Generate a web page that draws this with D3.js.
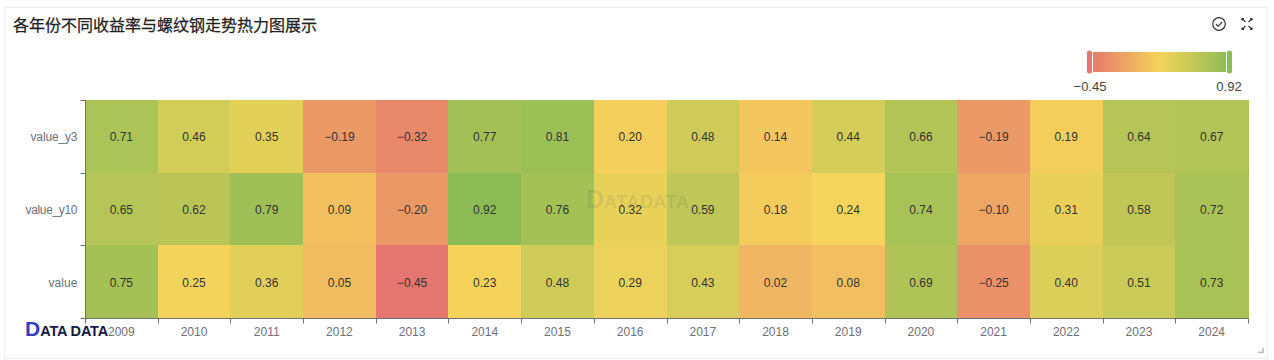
<!DOCTYPE html>
<html lang="zh">
  <head>
    <meta charset="utf-8" />
    <title>各年份不同收益率与螺纹钢走势热力图展示</title>
    <script src="https://d3js.org/d3.v7.min.js"></script>
    <style>
      html, body { margin: 0; padding: 0; background: #fff; overflow: hidden; }
      svg { display: block; font-family: "Liberation Sans", "Noto Sans CJK SC", sans-serif; }
    </style>
  </head>
  <body>
    <div id="chart"></div>
    <script>
      var years = ["2009","2010","2011","2012","2013","2014","2015","2016","2017","2018","2019","2020","2021","2022","2023","2024"];
      var seriesNames = ["value_y3", "value_y10", "value"];
      var value_y3 = [0.71,0.46,0.35,-0.19,-0.32,0.77,0.81,0.20,0.48,0.14,0.44,0.66,-0.19,0.19,0.64,0.67];
      var value_y10 = [0.65,0.62,0.79,0.09,-0.20,0.92,0.76,0.32,0.59,0.18,0.24,0.74,-0.10,0.31,0.58,0.72];
      var value = [0.75,0.25,0.36,0.05,-0.45,0.23,0.48,0.29,0.43,0.02,0.08,0.69,-0.25,0.40,0.51,0.73];
      var rows = [value_y3, value_y10, value];
      var colorStops = ["#e5766f", "#f5d45a", "#8bbb55"];
      var minVal = -0.45, maxVal = 0.92;

      var fmt = function (v) { return d3.format(".2f")(v).replace("-", "\u2212"); };

      var svg = d3.select("#chart").append("svg").attr("width", 1274).attr("height", 360);

      // card
      svg.append("rect").attr("x", 4.5).attr("y", 7.5).attr("width", 1263).attr("height", 351)
        .attr("fill", "#fff").attr("stroke", "#eeeeee");

      svg.append("text").attr("x", 13).attr("y", 31).attr("font-size", 16)
        .attr("fill", "#222").attr("stroke", "#222").attr("stroke-width", 0.25)
        .style("font-family", '"Noto Sans CJK SC", sans-serif')
        .text("各年份不同收益率与螺纹钢走势热力图展示");

      var x = d3.scaleBand().domain(years).range([85, 1248]);
      var y = d3.scaleBand().domain(seriesNames).range([100, 318]);
      var color = d3.scaleLinear()
        .domain([minVal, (minVal + maxVal) / 2, maxVal])
        .range(colorStops)
        .interpolate(d3.interpolateRgb);

      // cells, crisp so no seams show between them
      rows.forEach(function (vals, r) {
        var g = svg.append("g");
        g.selectAll("rect").data(vals).join("rect")
          .attr("x", function (d, i) { return x(years[i]); })
          .attr("y", y(seriesNames[r]))
          .attr("width", x.bandwidth() + 0.5)
          .attr("height", y.bandwidth() + 0.5)
          .attr("shape-rendering", "crispEdges")
          .attr("fill", function (d) { return color(d); });
      });

      // watermark in the middle, under the cell labels
      var wm = svg.append("text").attr("x", 586).attr("y", 208).attr("font-weight", 700)
        .attr("fill", "#555").attr("fill-opacity", 0.13);
      wm.append("tspan").attr("font-size", 25).text("D");
      wm.append("tspan").attr("font-size", 18).attr("textLength", 85).text("ATADATA");

      rows.forEach(function (vals, r) {
        var g = svg.append("g");
        g.selectAll("text").data(vals).join("text")
          .attr("x", function (d, i) { return x(years[i]) + x.bandwidth() / 2; })
          .attr("y", y(seriesNames[r]) + y.bandwidth() / 2 + 5)
          .attr("text-anchor", "middle")
          .attr("font-size", 12)
          .attr("fill", "#333")
          .text(function (d) { return fmt(d); });
      });

      // axes
      var xAxis = svg.append("g").attr("transform", "translate(0,318.5)");
      xAxis.append("line").attr("x1", 85).attr("x2", 1248).attr("stroke", "#6e7079");
      xAxis.selectAll("line.edge").data(d3.range(years.length + 1)).join("line").attr("class", "edge")
        .attr("x1", function (i) { return Math.round(85 + i * x.step()) + 0.5; })
        .attr("x2", function (i) { return Math.round(85 + i * x.step()) + 0.5; })
        .attr("y1", 0).attr("y2", 5).attr("stroke", "#6e7079");
      xAxis.selectAll("text.lab").data(years).join("text").attr("class", "lab")
        .attr("x", function (d) { return x(d) + x.bandwidth() / 2; })
        .attr("y", 17).attr("text-anchor", "middle")
        .attr("font-size", 12).attr("fill", "#6e7079")
        .text(function (d) { return d; });

      var yAxis = svg.append("g").attr("transform", "translate(85.5,0)");
      yAxis.append("line").attr("y1", 100).attr("y2", 318).attr("stroke", "#6e7079");
      yAxis.selectAll("line.edge").data(d3.range(seriesNames.length + 1)).join("line").attr("class", "edge")
        .attr("x1", -5).attr("x2", 0)
        .attr("y1", function (i) { return Math.round(100 + i * y.step()) + 0.5; })
        .attr("y2", function (i) { return Math.round(100 + i * y.step()) + 0.5; })
        .attr("stroke", "#6e7079");
      yAxis.selectAll("text").data(seriesNames).join("text")
        .attr("x", -8).attr("y", function (d) { return y(d) + y.bandwidth() / 2 + 5; })
        .attr("text-anchor", "end").attr("font-size", 12).attr("fill", "#6e7079")
        .attr("textLength", function (d) { return d === "value" ? 29 : d === "value_y3" ? 47 : 52; })
        .text(function (d) { return d; });

      // legend
      var defs = svg.append("defs");
      var grad = defs.append("linearGradient").attr("id", "lg");
      grad.selectAll("stop").data(colorStops).join("stop")
        .attr("offset", function (d, i) { return i * 50 + "%"; })
        .attr("stop-color", function (d) { return d; });
      svg.append("rect").attr("x", 1090).attr("y", 52).attr("width", 140).attr("height", 20).attr("fill", "url(#lg)");
      [[1086.5, colorStops[0]], [1226.5, colorStops[2]]].forEach(function (h) {
        svg.append("rect").attr("x", h[0]).attr("y", 50).attr("width", 6).attr("height", 24).attr("rx", 2.5)
          .attr("fill", h[1]).attr("stroke", "#fff");
      });
      svg.append("text").attr("x", 1090).attr("y", 90.5).attr("text-anchor", "middle").attr("font-size", 13)
        .attr("fill", "#444").text(fmt(minVal));
      svg.append("text").attr("x", 1229).attr("y", 90.5).attr("text-anchor", "middle").attr("font-size", 13)
        .attr("fill", "#444").text(fmt(maxVal));

      // toolbar icons
      var ic = svg.append("g").attr("fill", "none").attr("stroke", "#333").attr("stroke-width", 1.2);
      ic.append("circle").attr("cx", 1219).attr("cy", 24).attr("r", 6.3);
      ic.append("path").attr("d", "M1216 24l2.2 2.4 4-4.6");
      ic.append("path").attr("d", "M1242 20.5v-2h2 M1250 18.5h2v2 M1252 27.5v2h-2 M1244 29.5h-2v-2 M1242.5 19l3 3 M1251.5 19l-3 3 M1251.5 29l-3 -3 M1242.5 29l3 -3");

      // resize grip
      svg.append("path").attr("d", "M1258 352.5h5v-5").attr("fill", "none").attr("stroke", "#bbb").attr("stroke-width", 1.5);

      // logo bottom left
      var logo = svg.append("text").attr("x", 25).attr("y", 336).attr("font-weight", 700)
        .attr("fill", "#14193f");
      logo.append("tspan").attr("font-size", 21).attr("fill", "#2f3fc4").text("D");
      logo.append("tspan").attr("font-size", 14.5).attr("textLength", 68).text("ATA DATA");
    </script>
  </body>
</html>
